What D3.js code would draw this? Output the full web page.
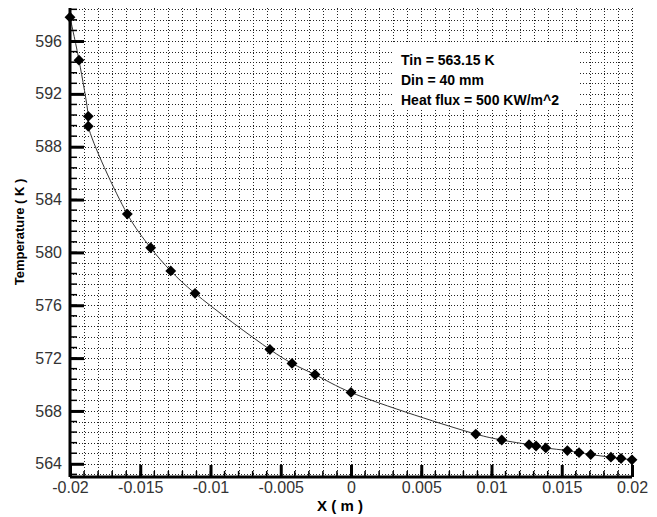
<!DOCTYPE html>
<html>
<head>
<meta charset="utf-8">
<script src="https://cdn.jsdelivr.net/npm/d3@7"></script>
<style>
  body { margin: 0; background: #fff; }
  text { font-family: "Liberation Sans", Arial, sans-serif; }
</style>
</head>
<body>
<div id="chart"></div>
<script>
// Data
const xValues = [-0.02, -0.01936, -0.0187, -0.0187, -0.01592, -0.01426, -0.01283, -0.0111,
  -0.00577, -0.0042, -0.00256, 0, 0.00888, 0.01073, 0.01267, 0.01317, 0.01386,
  0.0154, 0.01623, 0.01706, 0.0185, 0.01922, 0.02];
const tempValues = [597.8, 594.55, 590.3, 589.55, 582.9, 580.35, 578.6, 576.9,
  572.65, 571.6, 570.75, 569.4, 566.25, 565.8, 565.45, 565.35, 565.2,
  565.0, 564.85, 564.7, 564.5, 564.4, 564.3];
const xTicks = [-0.02, -0.015, -0.01, -0.005, 0, 0.005, 0.01, 0.015, 0.02];
const xTickLabels = ['-0.02', '-0.015', '-0.01', '-0.005', '0', '0.005', '0.01', '0.015', '0.02'];
const yTicks = [564, 568, 572, 576, 580, 584, 588, 592, 596];
const infoLines = ['Tin = 563.15 K', 'Din = 40 mm', 'Heat flux = 500 KW/m^2'];

const width = 657, height = 517;
const margin = { top: 8, right: 25, bottom: 40, left: 70 };

const svg = d3.select('#chart').append('svg')
  .attr('width', width)
  .attr('height', height);

const x = d3.scaleLinear().domain([-0.02, 0.02]).range([margin.left, width - margin.right]);
const y = d3.scaleLinear().domain([563, 598.5]).range([height - margin.bottom, margin.top]);

// minor positions (grid + small ticks)
const xMinor = d3.range(-0.02, 0.02 + 1e-9, 0.001);
const yMinor = d3.range(563.2, 598.5, 0.8);

// grid
const grid = svg.append('g').attr('stroke', '#222').attr('stroke-width', 1)
  .attr('stroke-dasharray', '1,2');
grid.selectAll('.vg').data(xMinor).enter().append('line')
  .attr('x1', d => Math.round(x(d)) + 0.5).attr('x2', d => Math.round(x(d)) + 0.5)
  .attr('y1', y(563)).attr('y2', margin.top);
grid.selectAll('.hg').data(yMinor).enter().append('line')
  .attr('x1', x(-0.02)).attr('x2', x(0.02))
  .attr('y1', d => Math.round(y(d)) + 0.5).attr('y2', d => Math.round(y(d)) + 0.5);

// info box
const box = svg.append('g').attr('transform', 'translate(392,44)');
box.append('rect').attr('width', 186).attr('height', 65).attr('fill', '#fff');
box.selectAll('text').data(infoLines).enter().append('text')
  .attr('x', 9)
  .attr('y', (d, i) => 21 + i * 20)
  .style('font-size', '14px')
  .style('font-weight', 'bold')
  .text(d => d);

// curve and markers
const pts = xValues.map((v, i) => [v, tempValues[i]]);
const line = d3.line().x(d => x(d[0])).y(d => y(d[1])).curve(d3.curveCatmullRom.alpha(0.5));
svg.append('path').datum(pts)
  .attr('d', line)
  .attr('fill', 'none')
  .attr('stroke', '#333')
  .attr('stroke-width', 1);

const diamond = d3.symbol().type(d3.symbolDiamond2).size(75);
svg.selectAll('.pt').data(pts).enter().append('path')
  .attr('transform', d => `translate(${x(d[0])},${y(d[1])})`)
  .attr('d', diamond)
  .attr('fill', '#000');

// axes
const yAxis = d3.axisLeft(y).tickValues(yTicks).tickSize(-14).tickPadding(8)
  .tickFormat(d3.format('d'));
const gy = svg.append('g').attr('transform', `translate(${margin.left},0)`).call(yAxis);
const xAxis = d3.axisBottom(x).tickValues(xTicks).tickSize(-12).tickPadding(5)
  .tickFormat((d, i) => xTickLabels[i]);
const gx = svg.append('g').attr('transform', `translate(0,${height - margin.bottom})`).call(xAxis);

[gx, gy].forEach(g => {
  g.select('.domain').attr('stroke', '#000').attr('stroke-width', 3);
  g.selectAll('.tick line').attr('stroke', '#000').attr('stroke-width', 3);
  g.selectAll('.tick text').attr('fill', '#333').style('font-size', '16px')
    .style('font-family', '"Liberation Sans", Arial, sans-serif');
});
gy.select('.domain').attr('d', `M0,${y(563)}V${margin.top}`);
gx.select('.domain').attr('d', `M${x(-0.02)},0H${x(0.02)}`);

// minor ticks
svg.append('g').selectAll('line').data(yMinor).enter().append('line')
  .attr('x1', margin.left).attr('x2', margin.left + 7)
  .attr('y1', d => y(d)).attr('y2', d => y(d))
  .attr('stroke', '#000').attr('stroke-width', 1.5);
svg.append('g').selectAll('line').data(xMinor).enter().append('line')
  .attr('x1', d => x(d)).attr('x2', d => x(d))
  .attr('y1', y(563)).attr('y2', y(563) - 6)
  .attr('stroke', '#000').attr('stroke-width', 1.5);

// axis titles
svg.append('text')
  .attr('x', 340).attr('y', 511)
  .attr('text-anchor', 'middle')
  .style('font-size', '15px').style('font-weight', 'bold')
  .text('X ( m )');
svg.append('text')
  .attr('transform', 'translate(24,232) rotate(-90)')
  .attr('text-anchor', 'middle')
  .style('font-size', '13px').style('font-weight', 'bold')
  .text('Temperature ( K )');
</script>
</body>
</html>
